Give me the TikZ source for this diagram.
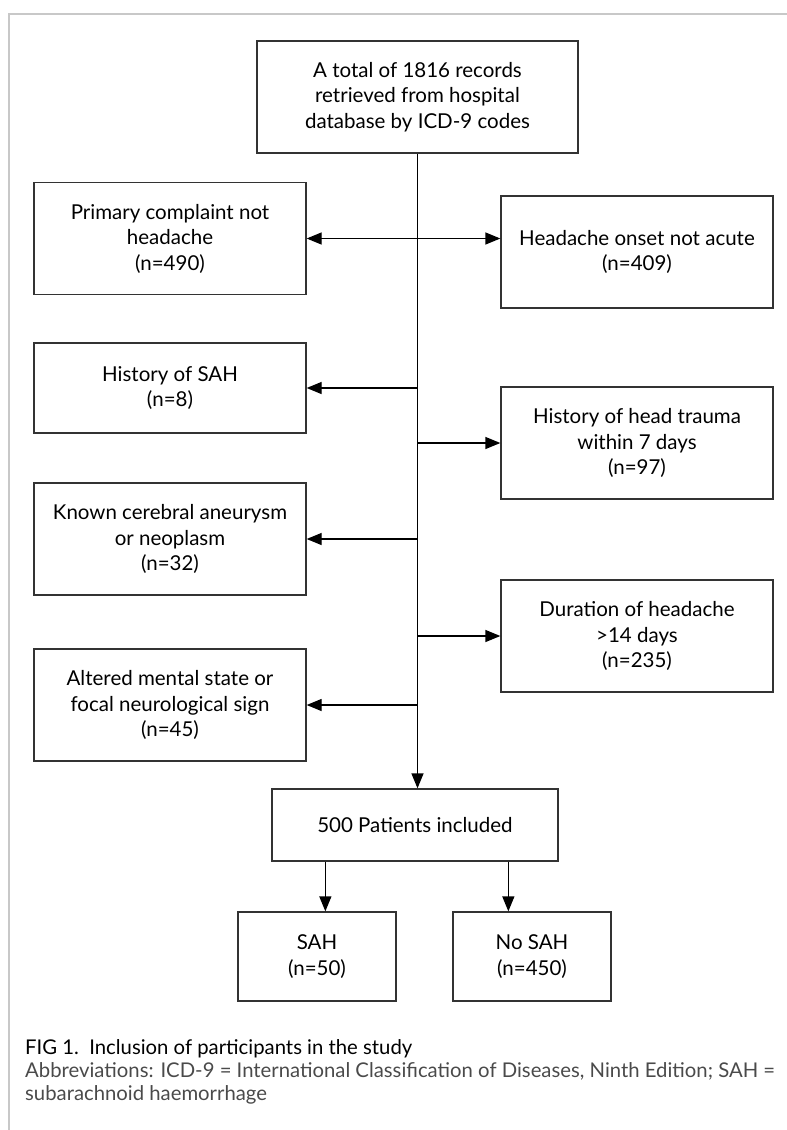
\documentclass[tikz,border=0pt]{standalone}
\usepackage{fontspec}
\setmainfont{Lato}
\usetikzlibrary{arrows.meta}
\definecolor{boxgray}{HTML}{333333}
\definecolor{framegray}{HTML}{C8C8C8}
\definecolor{capgray}{HTML}{4A4A4A}
\begin{document}
\begin{tikzpicture}[x=1pt,y=-1pt,
  box/.style={draw=boxgray,line width=1.3pt,inner sep=0pt,align=center,
    font=\fontsize{20.5}{25.5}\selectfont},
  topbox/.style={box,minimum width=321pt,minimum height=112pt},
  sidebox/.style={box,minimum width=272pt,minimum height=112pt},
  shortbox/.style={box,minimum width=272pt,minimum height=90pt},
  mainbox/.style={box,minimum width=286pt,minimum height=72pt},
  endbox/.style={box,minimum width=158pt,minimum height=89pt},
  conn/.style={line width=1.3pt,black},
  arr/.style={conn,-{Triangle[length=15pt,width=12pt]}},
  darr/.style={conn,{Triangle[length=15pt,width=12pt]}-{Triangle[length=15pt,width=12pt]}},
  frameline/.style={framegray,line width=1.5pt},
  captext/.style={anchor=base west,inner sep=0pt,font=\fontsize{20.3}{23.5}\selectfont}]
\useasboundingbox (0,0) rectangle (787,1130);
% frame
\draw[frameline] (9,1130) -- (9,14) -- (787,14);
% nodes
\node[topbox] (top) at (417.5,97) {A total of 1816 records\\retrieved from hospital\\database by ICD-9 codes};
\node[sidebox] (L1) at (170,238.5) {Primary complaint not\\headache\\(n=490)};
\node[sidebox] (R1) at (637,252) {Headache onset not acute\\(n=409)};
\node[shortbox] (L2) at (170,388) {History of SAH\\(n=8)};
\node[sidebox] (R2) at (637,443) {History of head trauma\\within 7 days\\(n=97)};
\node[sidebox] (L3) at (170,539) {Known cerebral aneurysm\\or neoplasm\\(n=32)};
\node[sidebox] (R3) at (637,636) {Duration of headache\\>14 days\\(n=235)};
\node[sidebox] (L4) at (170,705) {Altered mental state or\\focal neurological sign\\(n=45)};
\node[mainbox] (p500) at (415,825) {500 Patients included};
\node[endbox] (sah) at (317,956.5) {SAH\\(n=50)};
\node[endbox] (nosah) at (532,956.5) {No SAH\\(n=450)};
% connectors
\draw[arr] (top.south) -- (top.south |- p500.north);
\draw[darr] (L1.east) -- (L1.east -| R1.west);
\draw[arr] (top.south |- L2.east) -- (L2.east);
\draw[arr] (top.south |- R2.west) -- (R2.west);
\draw[arr] (top.south |- L3.east) -- (L3.east);
\draw[arr] (top.south |- R3.west) -- (R3.west);
\draw[arr] (top.south |- L4.east) -- (L4.east);
\draw[arr] ([xshift=54pt]p500.south west) -- ([xshift=88pt]sah.north west);
\draw[arr] ([xshift=237pt]p500.south west) -- ([xshift=56pt]nosah.north west);
% caption
\node[captext] (fig) at (25,1054) {FIG 1.\ \ Inclusion of participants in the study};
\node[captext,text=capgray] (abbr1) at (25,1077) {Abbreviations: ICD-9 = International Classification of Diseases, Ninth Edition; SAH =};
\node[captext,text=capgray] (abbr2) at (25,1100) {subarachnoid haemorrhage};
\end{tikzpicture}
\end{document}
